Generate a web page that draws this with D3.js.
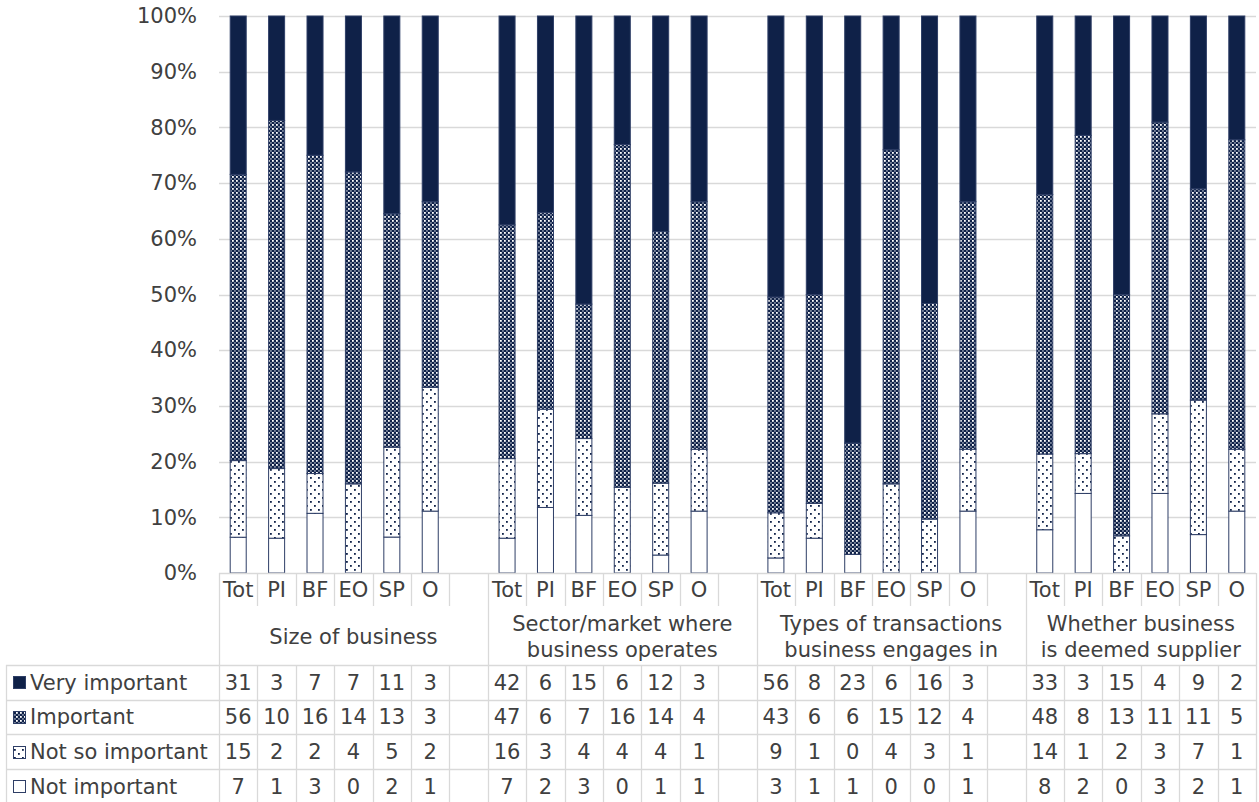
<!DOCTYPE html>
<html>
<head>
<meta charset="utf-8">
<script src="https://cdn.jsdelivr.net/npm/d3@7"></script>
<style>
  html, body { margin: 0; padding: 0; background: #ffffff; }
  svg { display: block; font-family: "DejaVu Sans", Verdana, sans-serif; }
</style>
</head>
<body>
<svg id="chart" width="1259" height="802"></svg>
<script>
// ---------- DATA ----------
const groupLabels = [
  ["Size of business"],
  ["Sector/market where", "business operates"],
  ["Types of transactions", "business engages in"],
  ["Whether business", "is deemed supplier"]
];
const categories = ["Tot", "PI", "BF", "EO", "SP", "O"];
const seriesNames = ["Very important", "Important", "Not so important", "Not important"];
const veryImportant = [[31, 3, 7, 7, 11, 3], [42, 6, 15, 6, 12, 3], [56, 8, 23, 6, 16, 3], [33, 3, 15, 4, 9, 2]];
const important     = [[56, 10, 16, 14, 13, 3], [47, 6, 7, 16, 14, 4], [43, 6, 6, 15, 12, 4], [48, 8, 13, 11, 11, 5]];
const notSoImportant = [[15, 2, 2, 4, 5, 2], [16, 3, 4, 4, 4, 1], [9, 1, 0, 4, 3, 1], [14, 1, 2, 3, 7, 1]];
const notImportant  = [[7, 1, 3, 0, 2, 1], [7, 2, 3, 0, 1, 1], [3, 1, 1, 0, 0, 1], [8, 2, 0, 3, 2, 1]];
const yTicks = [0, 0.1, 0.2, 0.3, 0.4, 0.5, 0.6, 0.7, 0.8, 0.9, 1.0];

// ---------- LAYOUT ----------
const navy = "#0f2148";
const textCol = "#404040";
const gridCol = "#d9d9d9";
const fontSize = 21;
const plotLeft = 219, plotRight = 1256, plotTop = 16, plotBottom = 573;
const catRowBottom = 606, groupRowBottom = 665, rowH = 34.7;
const tableLeft = 6;

const svg = d3.select("#chart");

// slots: 6 categories per group + 1 gap after each group except last
const slots = [];
groupLabels.forEach((g, gi) => {
  categories.forEach((c, ci) => slots.push({ id: gi + "-" + ci, gi, ci, cat: c }));
  if (gi < groupLabels.length - 1) slots.push({ id: "gap" + gi, gi, ci: -1, cat: "" });
});

const x = d3.scaleBand().domain(slots.map(s => s.id)).range([plotLeft, plotRight]).padding(0);
const y = d3.scaleLinear().domain([0, 1]).range([plotBottom, plotTop]);
const barW = x.bandwidth() * 0.417;

// ---------- PATTERNS ----------
const defs = svg.append("defs");
const pImp = defs.append("pattern").attr("id", "pImportant").attr("patternUnits", "userSpaceOnUse")
  .attr("width", 4).attr("height", 4);
pImp.append("rect").attr("width", 4).attr("height", 4).attr("fill", navy);
pImp.append("rect").attr("x", 0).attr("y", 0).attr("width", 1.8).attr("height", 1.8).attr("fill", "#ffffff");
pImp.append("rect").attr("x", 2.3).attr("y", 2.3).attr("width", 1.3).attr("height", 1.3).attr("fill", "#dfe4ee");

const pNS = defs.append("pattern").attr("id", "pNotSo").attr("patternUnits", "userSpaceOnUse")
  .attr("width", 8).attr("height", 8);
pNS.append("rect").attr("width", 8).attr("height", 8).attr("fill", "#ffffff");
pNS.append("rect").attr("x", 2).attr("y", 1).attr("width", 1.8).attr("height", 1.8).attr("fill", navy);
pNS.append("rect").attr("x", 6).attr("y", 5).attr("width", 1.8).attr("height", 1.8).attr("fill", navy);

const fills = { "Very important": navy, "Important": "url(#pImportant)", "Not so important": "url(#pNotSo)", "Not important": "#ffffff" };

// ---------- GRIDLINES ----------
svg.append("g").selectAll("line").data(yTicks.filter(t => t > 0)).join("line")
  .attr("x1", plotLeft).attr("x2", plotRight)
  .attr("y1", d => Math.round(y(d)) + 0.5).attr("y2", d => Math.round(y(d)) + 0.5)
  .attr("stroke", gridCol).attr("stroke-width", 1.3);

// y axis labels
const yAxis = d3.axisLeft(y).tickValues(yTicks).tickFormat(d3.format(".0%")).tickSize(0).tickPadding(0);
const yg = svg.append("g").attr("transform", "translate(197,0)").call(yAxis);
yg.select(".domain").remove();
yg.selectAll("text").attr("font-size", fontSize).attr("fill", textCol)
  .attr("font-family", "DejaVu Sans, Verdana, sans-serif");

// ---------- BARS ----------
const rows = [];
slots.filter(s => s.ci >= 0).forEach(s => {
  const vals = {
    "Not important": notImportant[s.gi][s.ci],
    "Not so important": notSoImportant[s.gi][s.ci],
    "Important": important[s.gi][s.ci],
    "Very important": veryImportant[s.gi][s.ci]
  };
  const total = d3.sum(Object.values(vals));
  const r = { id: s.id };
  seriesNames.forEach(n => r[n] = vals[n] / total);
  rows.push(r);
});
const stack = d3.stack().keys(["Not important", "Not so important", "Important", "Very important"]);
const stacked = stack(rows);

svg.append("g").selectAll("g").data(stacked).join("g")
  .attr("fill", d => fills[d.key])
  .selectAll("rect").data(d => d.filter(p => p[1] - p[0] > 0)).join("rect")
  .attr("x", d => x(d.data.id) + (x.bandwidth() - barW) / 2)
  .attr("width", barW)
  .attr("y", d => y(d[1]))
  .attr("height", d => y(d[0]) - y(d[1]))
  .attr("stroke", "#2e3e66").attr("stroke-width", 1);

// ---------- TABLE / AXIS ----------
const tg = svg.append("g").attr("stroke", gridCol).attr("stroke-width", 1.3);
const boundaries = slots.map(s => x(s.id)).concat([plotRight]);
const groupBounds = [plotLeft];
let acc = 0;
groupLabels.forEach((g, gi) => {
  acc += (gi < groupLabels.length - 1) ? 7 : 6;
  groupBounds.push(plotLeft + acc * x.step());
});
const tableBottom = groupRowBottom + rowH * 4;

// horizontal lines
tg.append("line").attr("x1", plotLeft).attr("x2", plotRight).attr("y1", plotBottom + 0.5).attr("y2", plotBottom + 0.5);
d3.range(5).forEach(i => {
  const yy = Math.round(groupRowBottom + i * rowH) + 0.5;
  tg.append("line").attr("x1", tableLeft).attr("x2", plotRight).attr("y1", yy).attr("y2", yy);
});
// vertical lines in category row + data rows
boundaries.forEach(bx => {
  const xx = Math.round(bx) + 0.5;
  tg.append("line").attr("x1", xx).attr("x2", xx).attr("y1", plotBottom).attr("y2", catRowBottom);
  tg.append("line").attr("x1", xx).attr("x2", xx).attr("y1", groupRowBottom).attr("y2", tableBottom);
});
// group boundaries span group row
groupBounds.forEach(bx => {
  const xx = Math.round(bx) + 0.5;
  tg.append("line").attr("x1", xx).attr("x2", xx).attr("y1", catRowBottom).attr("y2", groupRowBottom);
});
// table left border
tg.append("line").attr("x1", tableLeft + 0.5).attr("x2", tableLeft + 0.5).attr("y1", groupRowBottom).attr("y2", tableBottom);

// category labels
svg.append("g").selectAll("text").data(slots.filter(s => s.ci >= 0)).join("text")
  .attr("x", d => x(d.id) + x.bandwidth() / 2)
  .attr("y", (plotBottom + catRowBottom) / 2)
  .attr("dy", "0.35em")
  .attr("text-anchor", "middle")
  .attr("font-size", fontSize).attr("fill", textCol)
  .text(d => d.cat);

// group labels
groupLabels.forEach((lines, gi) => {
  const cx = (groupBounds[gi] + groupBounds[gi + 1]) / 2;
  const cy = (catRowBottom + groupRowBottom) / 2 + 1;
  const lh = 26;
  lines.forEach((ln, li) => {
    svg.append("text")
      .attr("x", cx)
      .attr("y", cy + (li - (lines.length - 1) / 2) * lh)
      .attr("dy", "0.35em")
      .attr("text-anchor", "middle")
      .attr("font-size", fontSize).attr("fill", textCol)
      .text(ln);
  });
});

// data table rows
const tableSeries = [veryImportant, important, notSoImportant, notImportant];
seriesNames.forEach((name, ri) => {
  const cy = groupRowBottom + ri * rowH + rowH / 2;
  // legend key
  svg.append("rect")
    .attr("x", 13.5).attr("y", Math.round(cy - 6) + 0.5).attr("width", 12).attr("height", 12)
    .attr("fill", fills[name]).attr("stroke", "#2e3e66").attr("stroke-width", 1);
  svg.append("text").attr("x", 30).attr("y", cy).attr("dy", "0.35em")
    .attr("font-size", fontSize).attr("fill", textCol).text(name);
  const g = svg.append("g");
  g.selectAll("text").data(slots.filter(s => s.ci >= 0)).join("text")
    .attr("x", d => x(d.id) + x.bandwidth() / 2)
    .attr("y", cy).attr("dy", "0.35em")
    .attr("text-anchor", "middle")
    .attr("font-size", fontSize).attr("fill", textCol)
    .text(d => tableSeries[ri][d.gi][d.ci]);
});
</script>
</body>
</html>
